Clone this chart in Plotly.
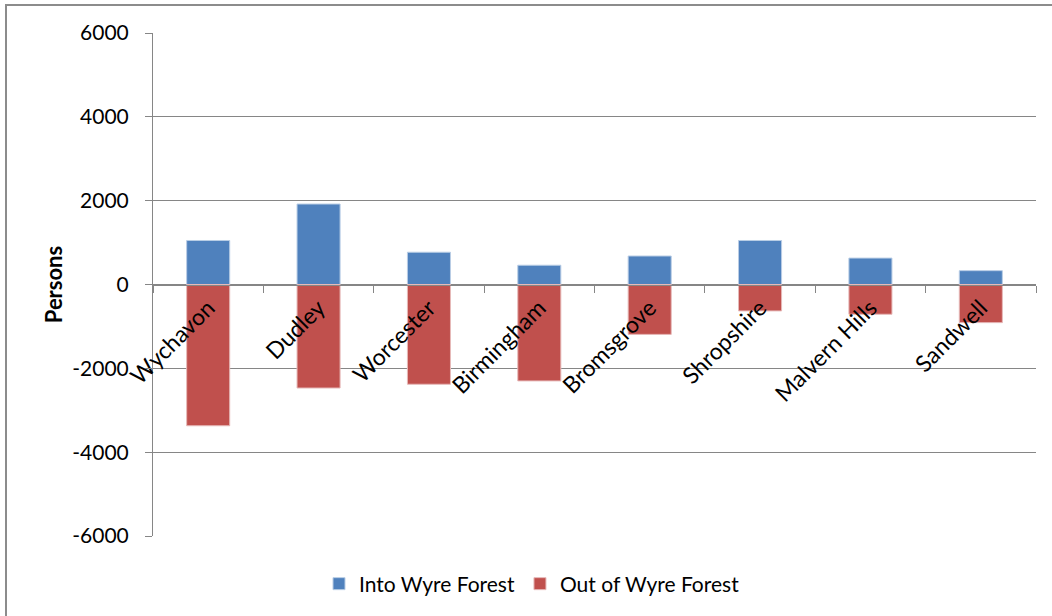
import plotly.graph_objects as go

categories = ["Wychavon", "Dudley", "Worcester", "Birmingham", "Bromsgrove",
              "Shropshire", "Malvern Hills", "Sandwell"]
into_wf = [1050, 1920, 770, 460, 680, 1050, 630, 330]
out_of_wf = [-3370, -2470, -2380, -2300, -1190, -630, -710, -910]
y_ticks = [-6000, -4000, -2000, 0, 2000, 4000, 6000]
y_tick_text = ["-6000", "-4000", "-2000", "0", "2000", "4000", "6000"]

W, H = 1052, 616
L, R, T, B = 153, 16, 33, 80
pw, ph = W - L - R, H - T - B

def px_x(x):
    return (x - L) / pw

def px_y(y):
    return (H - B - y) / ph

FONT = "Lato"
fig = go.Figure()
fig.add_trace(go.Bar(x=categories, y=into_wf, name="Into Wyre Forest",
                     marker=dict(color="#4F81BD", line=dict(color="#B9CDE5", width=1)),
                     width=0.39))
fig.add_trace(go.Bar(x=categories, y=out_of_wf, name="Out of Wyre Forest",
                     marker=dict(color="#C0504D", line=dict(color="#E6B9B8", width=1)),
                     width=0.39))

fig.update_layout(
    width=W, height=H,
    margin=dict(l=L, r=R, t=T, b=B),
    barmode="relative",
    plot_bgcolor="white", paper_bgcolor="white",
    font=dict(family=FONT, size=21, color="#000000"),
    showlegend=True,
    legend=dict(orientation="h", x=px_x(532), xanchor="center",
                y=px_y(584), yanchor="middle", font=dict(size=21),
                itemwidth=30, traceorder="normal"),
    xaxis=dict(anchor="free", position=0.5, showline=True, linecolor="#868686",
               linewidth=1, ticks="outside", tickson="boundaries", ticklen=7,
               tickcolor="#868686", tickangle=-45, showgrid=False,
               tickfont=dict(size=23), range=[-0.5, 7.5]),
    yaxis=dict(range=[-6000, 6000], tickvals=y_ticks, ticktext=y_tick_text,
               showgrid=True,
               gridcolor="#868686", gridwidth=1, zeroline=True,
               zerolinecolor="#868686", zerolinewidth=1,
               showline=True, linecolor="#868686", ticks="outside",
               ticklen=7, tickcolor="#868686", tickfont=dict(size=21),
               ticklabelstandoff=12,
               title=dict(text="<b>Persons</b>", font=dict(size=22), standoff=3)),
    shapes=[
        dict(type="line", xref="paper", yref="paper", x0=px_x(5), x1=px_x(1060),
             y0=px_y(5), y1=px_y(5), line=dict(color="#8C8C8C", width=2)),
        dict(type="line", xref="paper", yref="paper", x0=px_x(6), x1=px_x(6),
             y0=px_y(5), y1=px_y(630), line=dict(color="#8C8C8C", width=2)),
    ],
)

fig.write_html("out.html")
